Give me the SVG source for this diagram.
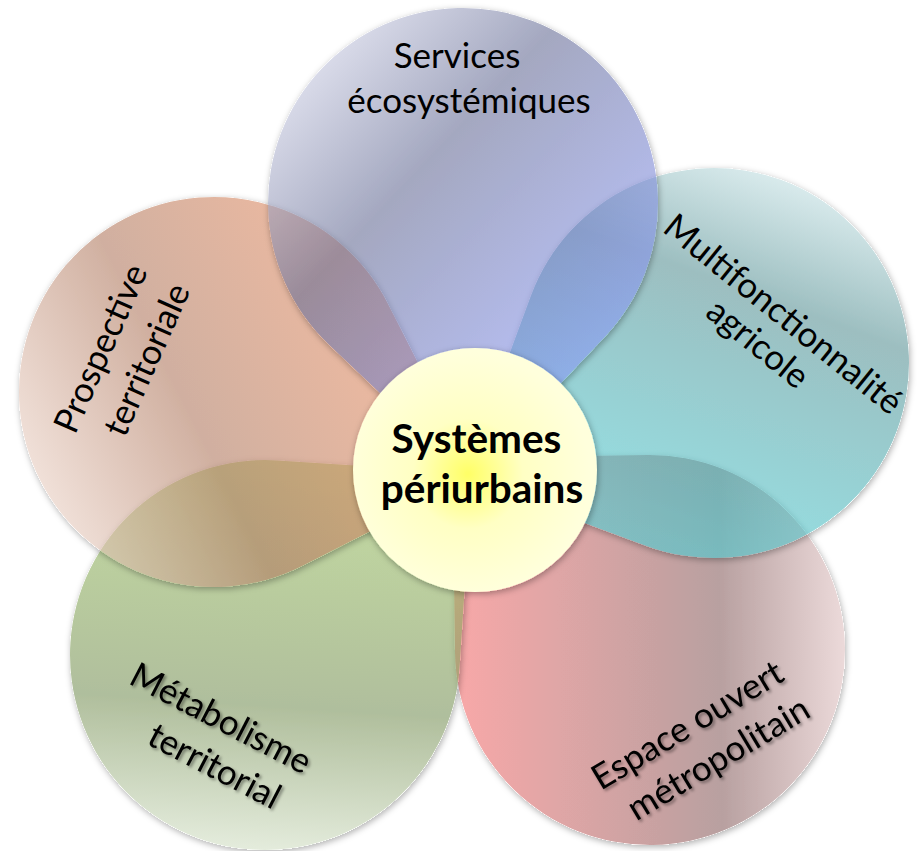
<svg xmlns="http://www.w3.org/2000/svg" width="917" height="851" viewBox="0 0 917 851">
  <style>
    .lbl { font-family: Lato, "Open Sans", "Liberation Sans", sans-serif; font-size: 35px; fill: #000; text-anchor: middle; }
    .ctr { font-family: Lato, "Open Sans", "Liberation Sans", sans-serif; font-size: 40.5px; font-weight: bold; fill: #000; text-anchor: middle; }
    .petal { fill-opacity: 0.6; }
  </style>
  <defs>
    <path id="drop" d="M-195,0 A195,195 0 0 1 0,-195 L195,-195 L195,0 A195,195 0 0 1 0,195 A195,195 0 0 1 -195,0 Z"/>
    <filter id="sh" x="-15%" y="-15%" width="130%" height="130%">
      <feComponentTransfer in="SourceAlpha" result="solid"><feFuncA type="linear" slope="20"/></feComponentTransfer>
      <feGaussianBlur in="solid" stdDeviation="3" result="b"/>
      <feOffset in="b" dx="1" dy="2" result="o"/>
      <feFlood flood-color="#000" flood-opacity="0.3"/>
      <feComposite in2="o" operator="in" result="s"/>
      <feComposite in="s" in2="solid" operator="out" result="so"/>
      <feMerge><feMergeNode in="so"/><feMergeNode in="SourceGraphic"/></feMerge>
    </filter>
    <filter id="tsh" x="-10%" y="-30%" width="120%" height="160%">
      <feDropShadow dx="2" dy="2" stdDeviation="1.5" flood-color="#000" flood-opacity="0.4"/>
    </filter>
    <linearGradient id="gBlue" gradientUnits="userSpaceOnUse" x1="0" y1="195" x2="0" y2="-195">
      <stop offset="0" stop-color="#bec1d9"/>
      <stop offset="0.36" stop-color="#676e96"/>
      <stop offset="1" stop-color="#8996f3"/>
    </linearGradient>
    <linearGradient id="gCyan" gradientUnits="userSpaceOnUse" x1="0" y1="195" x2="0" y2="-195">
      <stop offset="0" stop-color="#bedcdf"/>
      <stop offset="0.3" stop-color="#5a9396"/>
      <stop offset="1" stop-color="#4dcfd5"/>
    </linearGradient>
    <linearGradient id="gRed" gradientUnits="userSpaceOnUse" x1="0" y1="195" x2="0" y2="-195">
      <stop offset="0" stop-color="#dfc1c1"/>
      <stop offset="0.32" stop-color="#896161"/>
      <stop offset="1" stop-color="#f36e6e"/>
    </linearGradient>
    <linearGradient id="gGreen" gradientUnits="userSpaceOnUse" x1="0" y1="195" x2="0" y2="-195">
      <stop offset="0" stop-color="#d2dfc5"/>
      <stop offset="0.37" stop-color="#7b935a"/>
      <stop offset="1" stop-color="#9dc561"/>
    </linearGradient>
    <linearGradient id="gOrange" gradientUnits="userSpaceOnUse" x1="0" y1="195" x2="0" y2="-195">
      <stop offset="0" stop-color="#e6cbbe"/>
      <stop offset="0.42" stop-color="#b17b61"/>
      <stop offset="1" stop-color="#e68c61"/>
    </linearGradient>
    <radialGradient id="gCenter" gradientUnits="userSpaceOnUse" cx="468" cy="474" r="122" fx="468" fy="474">
      <stop offset="0" stop-color="#ffff66"/>
      <stop offset="0.45" stop-color="#ffffc4"/>
      <stop offset="1" stop-color="#ffffdc"/>
    </radialGradient>
  </defs>

  <g id="petal-espace" filter="url(#sh)">
    <use href="#drop" class="petal" fill="url(#gRed)" transform="translate(650,650) rotate(-90.8)"/>
  </g>
  <g id="petal-multifonctionnalite" filter="url(#sh)">
    <use href="#drop" class="petal" fill="url(#gCyan)" transform="translate(714,363) rotate(200.3)"/>
  </g>
  <g id="petal-metabolisme" filter="url(#sh)">
    <use href="#drop" class="petal" fill="url(#gGreen)" transform="translate(265,655) rotate(3.7)"/>
  </g>
  <g id="petal-prospective" filter="url(#sh)">
    <use href="#drop" class="petal" fill="url(#gOrange)" transform="translate(214,392) rotate(63)"/>
  </g>
  <g id="petal-services" filter="url(#sh)">
    <use href="#drop" class="petal" fill="url(#gBlue)" transform="translate(463,203) rotate(133.5)"/>
  </g>

  <g id="center" filter="url(#sh)">
    <circle cx="475" cy="470" r="122" fill="url(#gCenter)"/>
  </g>

  <g id="labels">
    <text class="lbl" x="457" y="68">Services</text>
    <text class="lbl" x="469" y="113">écosystémiques</text>

    <text class="lbl" transform="translate(775.8,323.4) rotate(39)">Multifonctionnalité</text>
    <text class="lbl" transform="translate(750.4,352.8) rotate(39)">agricole</text>

    <text class="lbl" transform="translate(111.6,353.3) rotate(-66)">Prospective</text>
    <text class="lbl" transform="translate(157.7,364.5) rotate(-66)">territoriale</text>

    <g filter="url(#tsh)">
      <text class="lbl" transform="translate(215.3,728.8) rotate(27.5)">Métabolisme</text>
      <text class="lbl" transform="translate(209,776.5) rotate(27.5)">territorial</text>
    </g>

    <g filter="url(#tsh)">
      <text class="lbl" transform="translate(693.5,735.3) rotate(-31)">Espace ouvert</text>
      <text class="lbl" transform="translate(724.4,768.6) rotate(-31)">métropolitain</text>
    </g>

    <text class="ctr" x="476.5" y="453">Systèmes</text>
    <text class="ctr" x="482" y="503">périurbains</text>
  </g>
</svg>
